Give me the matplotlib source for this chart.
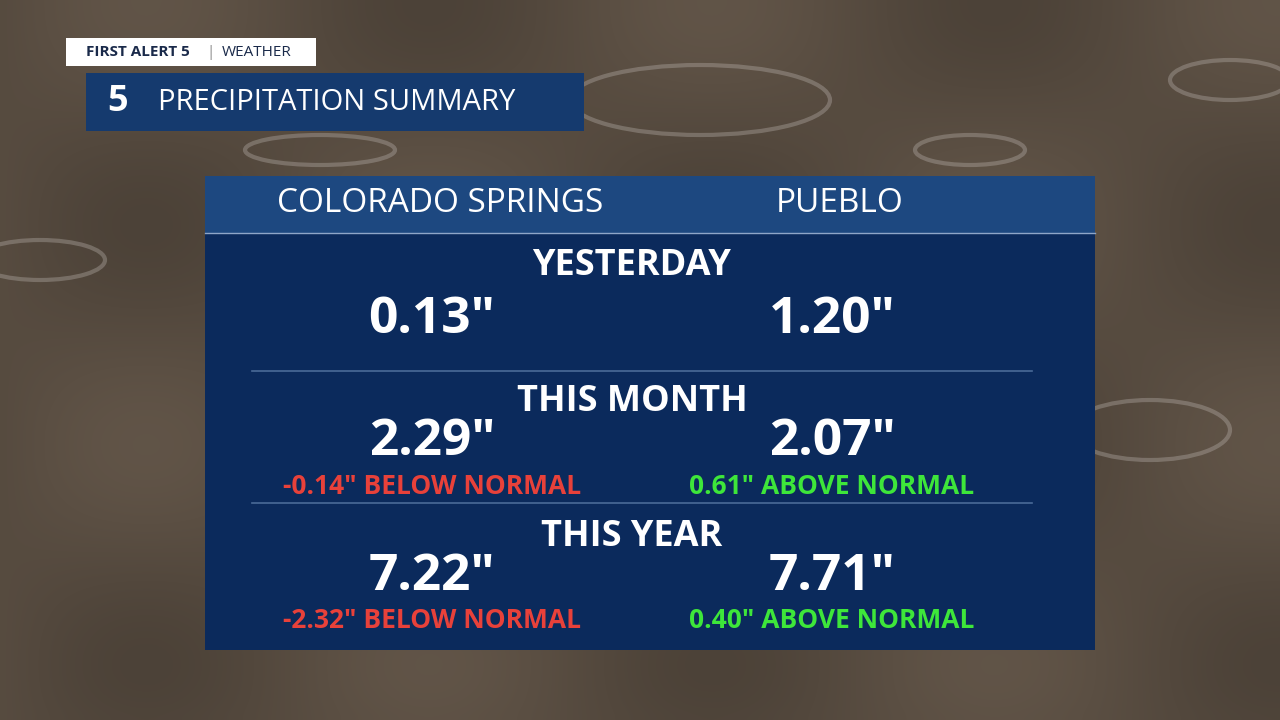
import numpy as np
import matplotlib
matplotlib.use("Agg")
import matplotlib.pyplot as plt
from matplotlib.patches import Rectangle, Ellipse

cities = ["COLORADO SPRINGS", "PUEBLO"]
periods = ["YESTERDAY", "THIS MONTH", "THIS YEAR"]
values = {"COLORADO SPRINGS": [0.13, 2.29, 7.22], "PUEBLO": [1.20, 2.07, 7.71]}
departures = {"COLORADO SPRINGS": [None, -0.14, -2.32], "PUEBLO": [None, 0.61, 0.40]}

FONT = ["Open Sans", "DejaVu Sans"]
fig = plt.figure(figsize=(12.8, 7.2), dpi=100)
ax = fig.add_axes([0, 0, 1, 1])
ax.set_xlim(0, 1280); ax.set_ylim(720, 0); ax.axis("off")

# background (photo-like dark wet ground)
yy, xx = np.mgrid[0:72, 0:128]
base = 0.5 + 0.5 * np.sin(xx / 9.0) * np.cos(yy / 7.0)
img = np.zeros((72, 128, 3))
img[..., 0] = 0.30 + 0.08 * base
img[..., 1] = 0.26 + 0.07 * base
img[..., 2] = 0.22 + 0.06 * base
ax.imshow(img, extent=[0, 1280, 720, 0], aspect="auto", zorder=0, interpolation="bicubic")
for (cx, cy, w, h) in [(700, 100, 260, 70), (970, 150, 110, 30), (40, 260, 130, 40),
                        (1150, 430, 160, 60), (320, 150, 150, 30), (1230, 80, 120, 40)]:
    ax.add_patch(Ellipse((cx, cy), w, h, fill=False, ec=(0.75, 0.72, 0.7, 0.35), lw=3, zorder=1))

# brand boxes
ax.add_patch(Rectangle((66, 38), 250, 28, fc="white", zorder=2))
ax.text(86, 52, "FIRST ALERT 5", fontsize=11, fontweight="bold", color="#1a2a4a", va="center", family=FONT, zorder=3)
ax.text(206, 52, "|", fontsize=11, color="#888888", va="center", family=FONT, zorder=3)
ax.text(222, 52, "WEATHER", fontsize=11, color="#1a2a4a", va="center", family=FONT, zorder=3)
ax.add_patch(Rectangle((86, 73), 498, 58, fc="#153a6e", zorder=2))
ax.text(118, 102, "5", fontsize=26, fontweight="bold", color="white", ha="center", va="center", family=FONT, zorder=3)
ax.text(158, 102, "PRECIPITATION SUMMARY", fontsize=21, color="white", va="center", family=FONT, zorder=3)

# panel
ax.add_patch(Rectangle((205, 176), 890, 474, fc="#0b2a5c", zorder=2))
ax.add_patch(Rectangle((205, 176), 890, 57, fc="#1d4880", zorder=2))
ax.plot([205, 1095], [233, 233], color="#8fa6c8", lw=1, zorder=3)
for y in [371, 503]:
    ax.plot([252, 1032], [y, y], color="#4a6a98", lw=1.2, zorder=3)

xs = [440, 840]
for x, c in zip(xs, cities):
    ax.text(x, 204, c, fontsize=24, color="white", ha="center", va="center", family=FONT, zorder=4)

title_y = [266, 402, 537]
val_y = [320, 442, 577]
dep_y = [None, 487, 620]
val_x = [432, 832]
for i, p in enumerate(periods):
    ax.text(632, title_y[i], p, fontsize=26, fontweight="bold", color="white", ha="center", va="center", family=FONT, zorder=4)
    for j, c in enumerate(cities):
        ax.text(val_x[j], val_y[i], f'{values[c][i]:.2f}"', fontsize=37, fontweight="bold", color="white",
                ha="center", va="center", family=FONT, zorder=4)
        d = departures[c][i]
        if d is not None:
            if d < 0:
                s, col = f'{d:.2f}" BELOW NORMAL', "#e8413a"
            else:
                s, col = f'{d:.2f}" ABOVE NORMAL', "#3ee63a"
            ax.text(val_x[j], dep_y[i], s, fontsize=19, fontweight="bold", color=col,
                    ha="center", va="center", family=FONT, zorder=4)

fig.savefig("out.png", dpi=100)
